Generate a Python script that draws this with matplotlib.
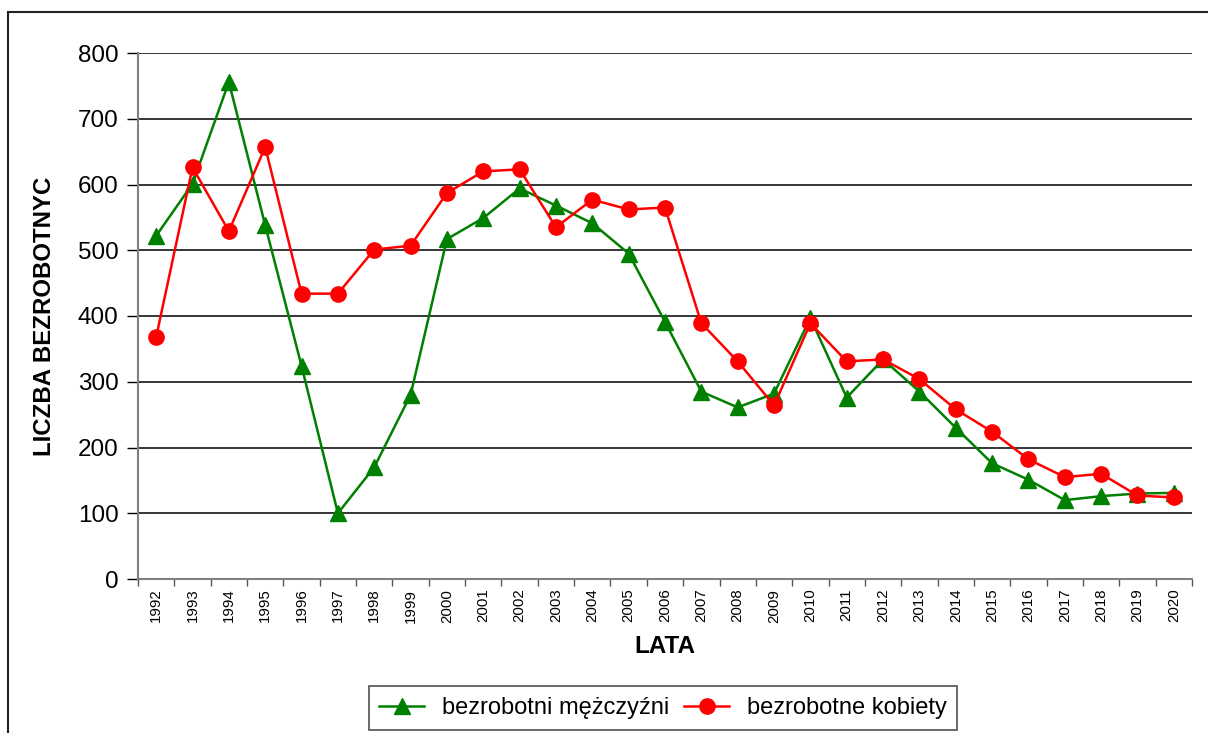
import numpy as np
import matplotlib.pyplot as plt
from matplotlib.patches import Rectangle
from matplotlib.ticker import FixedLocator

plt.rcParams['font.family'] = ['Liberation Sans', 'DejaVu Sans']

years = list(range(1992, 2021))
men = [522, 601, 756, 538, 324, 100, 170, 280, 517, 549, 594, 568, 541, 495,
       391, 285, 261, 282, 397, 276, 334, 285, 230, 176, 151, 120, 126, 130, 131]
women = [368, 626, 529, 657, 434, 434, 501, 507, 587, 620, 623, 535, 577, 562,
         565, 389, 331, 264, 389, 331, 334, 304, 258, 224, 182, 155, 160, 127, 124]

fig = plt.figure(figsize=(12.08, 7.33), dpi=100)
ax = fig.add_axes([138 / 1208, 1 - 579 / 733, (1192 - 138) / 1208, (579 - 53) / 733])

# outer chart frame (runs off the right and bottom of the picture)
fig.patches.append(Rectangle((8 / 1208, -0.05), 1.2, 1 - 12 / 733 + 0.05,
                             transform=fig.transFigure, fill=False,
                             edgecolor='#222222', linewidth=1.5))

x = np.arange(len(years))
ax.plot(x, men, color='#008000', linewidth=1.8, marker='^', markersize=11,
        label='bezrobotni mężczyźni', zorder=3)
ax.plot(x, women, color='#ff0000', linewidth=1.8, marker='o', markersize=11,
        label='bezrobotne kobiety', zorder=4)

ax.set_xlim(-0.5, len(years) - 0.5)
ax.set_ylim(0, 800)
ax.set_yticks(range(0, 801, 100))
ax.yaxis.grid(True, color='black', linewidth=1.1)
ax.set_axisbelow(True)
ax.tick_params(axis='y', labelsize=17.5, length=8, width=1, color='black', pad=6)

# ticks between categories, labels centred in each bin
ax.xaxis.set_major_locator(FixedLocator(np.arange(-0.5, len(years), 1.0)))
ax.set_xticklabels([])
ax.xaxis.set_minor_locator(FixedLocator(x))
ax.set_xticklabels([str(y) for y in years], minor=True, rotation=90, fontsize=10.8)
ax.tick_params(axis='x', which='major', length=5, width=1, color='#555555')
ax.tick_params(axis='x', which='minor', length=0, pad=7)

for side in ['top', 'right']:
    ax.spines[side].set_visible(False)
ax.spines['left'].set_color('#808080')
ax.spines['left'].set_linewidth(1.5)
ax.spines['bottom'].set_color('#808080')
ax.spines['bottom'].set_linewidth(1.5)

ax.set_xlabel('LATA', fontsize=17.5, fontweight='bold', labelpad=9)
ax.set_ylabel('LICZBA BEZROBOTNYC', fontsize=17.3, fontweight='bold', labelpad=16)

leg = fig.legend(loc='center', bbox_to_anchor=(663 / 1208, 1 - 708 / 733), ncol=2,
                 fontsize=17, frameon=True, fancybox=False, handlelength=1.9,
                 handletextpad=0.75, columnspacing=0.65, borderpad=0.45,
                 borderaxespad=0)
leg.get_frame().set_edgecolor('#222222')
leg.get_frame().set_linewidth(1.2)

fig.savefig('out.png', dpi=100)
